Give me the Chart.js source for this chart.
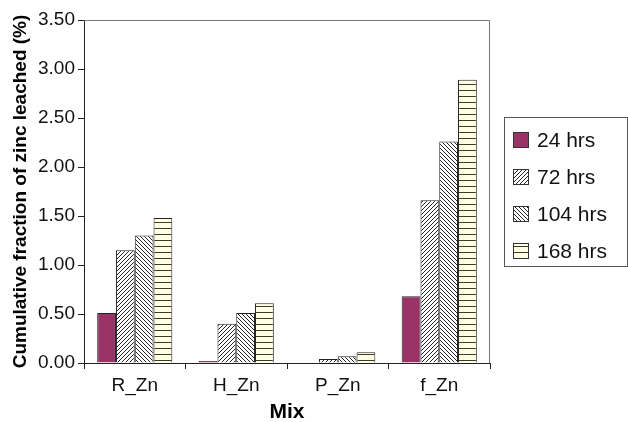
<!DOCTYPE html>
<html>
<head>
<meta charset="utf-8">
<script src="https://cdn.jsdelivr.net/npm/chart.js@4"></script>
<style>
  html, body { margin: 0; padding: 0; background: #fff; }
  #wrap { width: 628px; height: 422px; }
</style>
</head>
<body>
<div id="wrap"><canvas id="myChart" width="628" height="422"></canvas></div>
<script>
'use strict';

// data
const mixes = ['R_Zn', 'H_Zn', 'P_Zn', 'f_Zn'];
const seriesNames = ['24 hrs', '72 hrs', '104 hrs', '168 hrs'];
const hrs24 = [0.51, 0.02, 0.00, 0.68];
const hrs72 = [1.15, 0.40, 0.04, 1.66];
const hrs104 = [1.30, 0.51, 0.07, 2.26];
const hrs168 = [1.48, 0.61, 0.11, 2.89];
const yTicks = [0, 0.5, 1, 1.5, 2, 2.5, 3, 3.5];

const FONT = '"Liberation Sans", Arial, sans-serif';

// small pattern tiles for the hatched bars
function makePattern(kind) {
  const c = document.createElement('canvas');
  const s = kind === 'horiz' ? 6 : 4;
  c.width = s; c.height = s;
  const g = c.getContext('2d');
  g.fillStyle = kind === 'horiz' ? '#ffffe8' : '#fff';
  g.fillRect(0, 0, s, s);
  g.strokeStyle = kind === 'horiz' ? '#3d3d1f' : '#222';
  g.lineWidth = 1;
  g.beginPath();
  if (kind === 'fwd') {
    g.moveTo(-1, s + 1); g.lineTo(s + 1, -1);
    g.moveTo(-1, 1); g.lineTo(1, -1);
    g.moveTo(s - 1, s + 1); g.lineTo(s + 1, s - 1);
  } else if (kind === 'back') {
    g.moveTo(-1, -1); g.lineTo(s + 1, s + 1);
    g.moveTo(s - 1, -1); g.lineTo(s + 1, 1);
    g.moveTo(-1, s - 1); g.lineTo(1, s + 1);
  } else {
    g.moveTo(0, 0.5); g.lineTo(s, 0.5);
  }
  g.stroke();
  return g.createPattern(c, 'repeat');
}

const fills = ['#993366', makePattern('fwd'), makePattern('back'), makePattern('horiz')];
const allSeries = [hrs24, hrs72, hrs104, hrs168];

// border round the plot + legend drawn by hand (box with frame)
const extras = {
  id: 'extras',
  afterDraw(chart) {
    const c = chart.ctx;
    const a = chart.chartArea;
    c.save();
    c.strokeStyle = '#777';
    c.lineWidth = 1;
    c.beginPath();
    c.moveTo(a.left, a.top + 0.5);
    c.lineTo(a.right - 0.5, a.top + 0.5);
    c.lineTo(a.right - 0.5, a.bottom);
    c.stroke();

    // legend
    const lx = 504, ly = 117, lw = 123, lh = 149;
    c.strokeStyle = '#555';
    c.strokeRect(lx + 0.5, ly + 0.5, lw, lh);
    c.font = '21px ' + FONT;
    c.textBaseline = 'middle';
    chart.data.datasets.forEach((ds, i) => {
      const cy = 140 + i * 37;
      c.fillStyle = ds.backgroundColor;
      c.fillRect(513, cy - 8, 16, 16);
      c.strokeStyle = '#333';
      c.strokeRect(513.5, cy - 7.5, 15, 15);
      c.fillStyle = '#111';
      c.fillText(ds.label, 537, cy + 1);
    });
    c.restore();
  }
};

new Chart(document.getElementById('myChart'), {
  type: 'bar',
  data: {
    labels: mixes,
    datasets: seriesNames.map((name, i) => ({
      label: name,
      data: allSeries[i],
      backgroundColor: fills[i],
      borderColor: '#222',
      borderWidth: 1,
      categoryPercentage: 0.74,
      barPercentage: 1
    }))
  },
  options: {
    responsive: false,
    animation: false,
    layout: { padding: { top: 20, right: 138, left: 0, bottom: 0 } },
    plugins: { legend: { display: false }, tooltip: { enabled: false } },
    scales: {
      x: {
        offset: true,
        grid: { offset: true, drawOnChartArea: false, tickLength: 6, color: '#222' },
        border: { color: '#222' },
        ticks: { color: '#111', font: { family: FONT, size: 19 }, padding: 5 },
        title: {
          display: true, text: 'Mix', color: '#000',
          font: { family: FONT, size: 21, weight: 'bold' },
          padding: { top: 0, bottom: -3 }
        },
        afterFit(s) { s.height = 59; }
      },
      y: {
        min: 0, max: 3.5,
        afterBuildTicks(s) { s.ticks = yTicks.map(v => ({ value: v })); },
        grid: { drawOnChartArea: false, tickLength: 6, color: '#222' },
        border: { color: '#222' },
        ticks: {
          color: '#111', padding: 3,
          font: { family: FONT, size: 19 },
          callback: v => Number(v).toFixed(2)
        },
        title: {
          display: true, text: 'Cumulative fraction of zinc leached (%)', color: '#000',
          font: { family: FONT, size: 19, weight: 'bold' },
          padding: { top: 9, bottom: 0 }
        },
        afterFit(s) { s.width = 84; }
      }
    }
  },
  plugins: [extras]
});
</script>
</body>
</html>
